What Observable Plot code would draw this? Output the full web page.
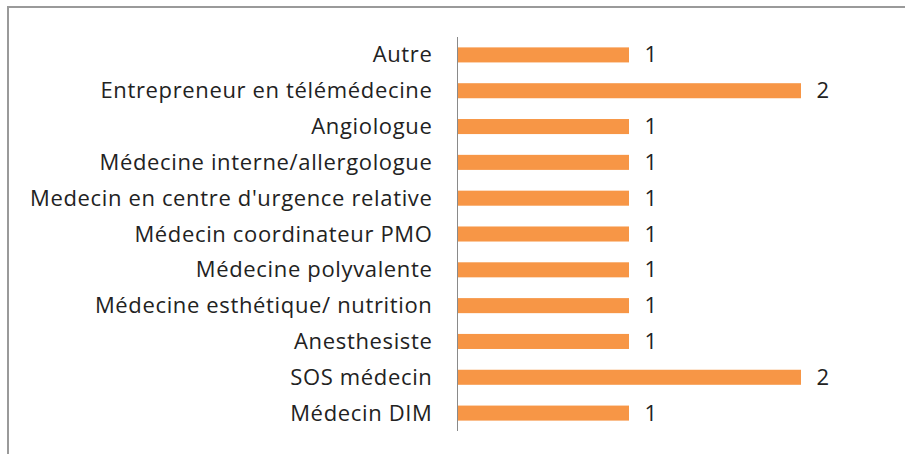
<!DOCTYPE html>
<html>
<head>
<meta charset="utf-8">
<script src="https://cdn.jsdelivr.net/npm/d3@7"></script>
<script src="https://cdn.jsdelivr.net/npm/@observablehq/plot@0.6"></script>
<style>
  html, body { margin: 0; padding: 0; background: #fff; }
  #wrap { position: relative; width: 905px; height: 454px; overflow: hidden; }
  #frame { position: absolute; left: 7px; top: 6px; width: 920px; height: 470px;
           border-top: 2px solid #9a9a9a; border-left: 2px solid #9a9a9a; box-sizing: border-box; }
  #chart { position: absolute; left: 0; top: 0; }
  #chart text { letter-spacing: 0.65px; }
</style>
</head>
<body>
<div id="wrap"><div id="frame"></div><div id="chart"></div></div>
<script>
const categories = [
  "Autre",
  "Entrepreneur en télémédecine",
  "Angiologue",
  "Médecine interne/allergologue",
  "Medecin en centre d'urgence relative",
  "Médecin coordinateur PMO",
  "Médecine polyvalente",
  "Médecine esthétique/ nutrition",
  "Anesthesiste",
  "SOS médecin",
  "Médecin DIM"
];
const values = [1, 2, 1, 1, 1, 1, 1, 1, 1, 2, 1];
const xDomain = [0, 2];

const data = categories.map((c, i) => ({category: c, value: values[i]}));
const font = "'Open Sans', sans-serif";

const chart = Plot.plot({
  width: 905,
  height: 454,
  marginLeft: 457,
  marginRight: 104,
  marginTop: 37,
  marginBottom: 23,
  style: {fontFamily: font, fontSize: "22px", color: "#222", background: "transparent"},
  x: {domain: xDomain, axis: null},
  y: {domain: categories, paddingInner: 0.58, paddingOuter: 0.29, round: false, label: null},
  marks: [
    Plot.barX(data, {x: "value", y: "category", fill: "#F79646"}),
    Plot.ruleX([0], {stroke: "#8a8a8a", strokeWidth: 1}),
    Plot.axisY({tickSize: 0, tickPadding: 25, label: null, fontSize: 22, fill: "#222"}),
    Plot.text(data, {x: "value", y: "category", text: d => String(d.value), textAnchor: "start", dx: 15, fontSize: 22, fill: "#222"})
  ]
});
document.getElementById("chart").appendChild(chart);
</script>
</body>
</html>
